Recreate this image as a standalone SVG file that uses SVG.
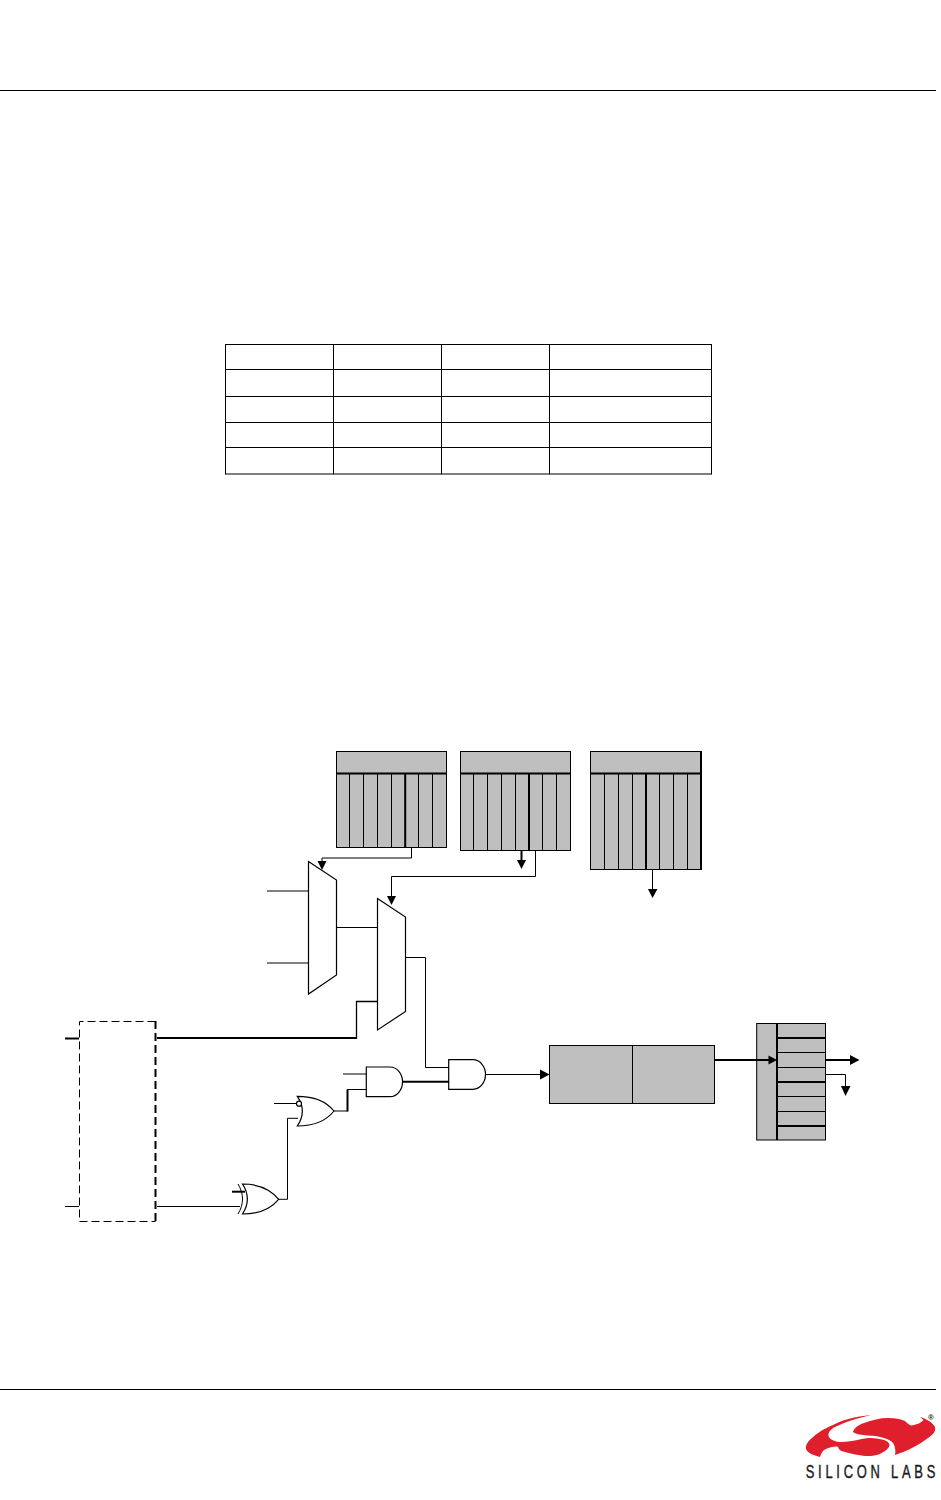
<svg xmlns="http://www.w3.org/2000/svg" width="941" height="1500" viewBox="0 0 941 1500">
<style>
.l{fill:none;stroke:#000;stroke-width:1}
.t{fill:none;stroke:#000;stroke-width:2}
.m{fill:none;stroke:#000;stroke-width:1.3}
.g{fill:#bfbfbf;stroke:#000;stroke-width:1}
.w{fill:#fff;stroke:#000;stroke-width:1.2}
.a{fill:#000;stroke:none}
.r{fill:#e01f2d;stroke:none}
.logo{font-family:"Liberation Sans",Arial,sans-serif;fill:#1a1a1a}
</style>
<rect width="941" height="1500" fill="#fff"/>
<g id="page-rules">
<path class="l" d="M0 90.5H936M0 1389.5H936"/>
</g>
<g id="table">
<path class="l" d="M225.5 344.5H711.5M225.5 369.5H711.5M225.5 396.5H711.5M225.5 422.5H711.5M225.5 447.5H711.5M225.5 474H711.5"/>
<path class="l" d="M225.5 344V474.5M333.5 344V474.5M441.5 344V474.5M549.5 344V474.5M711.5 344V474.5"/>
</g>
<g id="register-1">
<rect class="g" x="336.5" y="751.5" width="110" height="96"/>
<path class="t" d="M336.5 773.5H446.5M405.2 773.5V847.5"/>
<path class="l" d="M349.5 773.5V847.5M363.5 773.5V847.5M377.5 773.5V847.5M391.5 773.5V847.5M418.5 773.5V847.5M432.5 773.5V847.5"/>
</g>
<g id="register-2">
<rect class="g" x="460.5" y="751.5" width="110" height="99"/>
<path class="t" d="M460.5 773.5H570.5M529 773.5V850.5"/>
<path class="l" d="M473.5 773.5V850.5M487.5 773.5V850.5M501.5 773.5V850.5M515.5 773.5V850.5M542.5 773.5V850.5M556.5 773.5V850.5"/>
</g>
<g id="register-3">
<rect class="g" x="590.5" y="751.5" width="110" height="118"/>
<path class="t" d="M590.5 773.5H700.5M646 773.5V869.5M701 751V870"/>
<path class="l" d="M604.5 773.5V869.5M618.5 773.5V869.5M632.5 773.5V869.5M659.5 773.5V869.5M673.5 773.5V869.5M687.5 773.5V869.5"/>
</g>
<g id="mux-1"><path class="w" d="M308.5 861.5L336.5 880V975L308.5 994Z"/></g>
<g id="mux-2"><path class="w" d="M377.5 898.5L405.5 917V1011.5L377.5 1030Z"/></g>
<g id="dashed-block">
<path class="l" stroke-dasharray="8 4" d="M155.5 1021.5H79.5V1221.5H155.5"/>
<path class="t" stroke-dasharray="8 4" d="M155.5 1021V1222"/>
</g>
<g id="xor-gate">
<path class="w" d="M242.5 1184C258 1184 271 1190 278.7 1199.3C271 1208.5 258 1214 242.5 1214C249 1204 249 1194 242.5 1184Z"/>
<path class="l" d="M238 1184C244 1194 244 1204 238 1214"/>
</g>
<g id="nor-gate">
<path class="w" d="M297.3 1096.3C313 1096.3 326 1101 334 1111C326 1121 313 1126 297.3 1126C304 1116 304 1106 297.3 1096.3Z"/>
<circle class="w" cx="299" cy="1103.7" r="2.5"/>
</g>
<g id="and-gate-1"><path class="w" d="M366.3 1067H390A12.5 14.8 0 0 1 390 1096.7H366.3Z"/></g>
<g id="and-gate-2"><path class="w" d="M448.7 1059.7H473A12.5 14.8 0 0 1 473 1089.3H448.7Z" stroke-width="1.4"/></g>
<g id="counter-block">
<rect class="g" x="549.5" y="1045.5" width="165" height="58"/>
<path class="l" d="M632.5 1045.5V1103.5"/>
</g>
<g id="register-4">
<rect class="g" x="756.7" y="1023.5" width="68.8" height="116.5"/>
<path class="t" d="M777 1023.5V1140M777 1038H825.5M777 1082H825.5M777 1126H825.5"/>
<path class="l" d="M777 1052.5H825.5M777 1067.5H825.5M777 1096.5H825.5M777 1111.5H825.5"/>
</g>
<g id="connectors">
<path class="l" d="M411.5 848V858H322V862"/>
<path class="a" d="M317.5 861H326.5L322 870Z"/>
<path class="l" d="M535.5 851V876.5H391.5V897"/>
<path class="a" d="M387 896H396L391.5 905Z"/>
<path class="t" d="M521.5 851V861"/>
<path class="a" d="M517 860H526L521.5 869Z"/>
<path class="l" d="M652.5 870V890"/>
<path class="a" d="M648 889H657.5L652.5 898Z"/>
<path class="l" d="M267 891H308.5M267 963H308.5M336.5 927.5H377.5"/>
<path class="l" d="M405.5 957.5H425.5V1067.5H449"/>
<path class="t" d="M157 1038H356.5"/>
<path class="m" d="M356.5 1039V1001.5H377.5"/>
<path class="t" d="M65 1038.5H79"/>
<path class="l" d="M65 1206.5H79M157 1206.5H240"/>
<path class="t" d="M232 1191.7H245"/>
<path class="l" d="M279 1199.3H287.5V1118.3H298M274 1103.5H297M334 1111H347.5"/>
<path class="t" d="M347.5 1111.5V1089.5"/>
<path class="l" d="M347 1089.5H366.3M343 1074H366.3"/>
<path class="t" d="M402.5 1081.7H449"/>
<path class="l" d="M485 1074.5H541"/>
<path class="a" d="M540 1069.5L549.5 1074.5L540 1079.5Z"/>
<path class="t" d="M715 1060H770M825.5 1060H851"/>
<path class="a" d="M768.5 1055.5L777 1060L768.5 1064.5ZM850 1055L859.5 1060L850 1065Z"/>
<path class="l" d="M825.5 1074.5H845.5V1087"/>
<path class="a" d="M841 1086H850.5L845.5 1096Z"/>
</g>
<g id="logo">
<path class="r" d="M871 1415C855 1416.5 842 1420 833 1425C823 1429 816 1434 812 1438C806 1443 805 1447 806.5 1450C808 1453 813 1455 820 1457C821 1453 823 1450 826 1449C830 1447 836 1446 838 1447C839 1450 841 1451 843 1451.5C850 1453.5 860 1456 868 1456C875 1456 881 1454 885 1451C889 1448 891 1445 888 1442C884 1439 876 1438 868 1438C860 1439 850 1442 842 1442C836 1442 830 1440 828.5 1436C828 1432 831 1429 835 1427C845 1422 858 1418 871 1415Z"/>
<path class="r" d="M853 1432C854 1428 858 1425 864 1423C872 1420 880 1418 888 1418C895 1418 901 1419 905 1421C907 1423 909 1425 911 1425.5C916 1425 921 1423 923.5 1420L920 1417C927 1419 933 1423 935 1427C936 1431 933 1435 928 1438C920 1444 908 1451 895 1455C896 1451 895 1446 893 1443C890 1439 880 1436 868 1435.5C862 1435 856 1434.5 853 1432Z"/>
<text class="logo" transform="scale(.72 1)" x="1119" y="1478" font-size="18" stroke="#1a1a1a" stroke-width=".4" textLength="180" lengthAdjust="spacing">SILICON LABS</text>
<text class="logo" x="928" y="1420" font-size="8" font-weight="bold">®</text>
</g>
</svg>
